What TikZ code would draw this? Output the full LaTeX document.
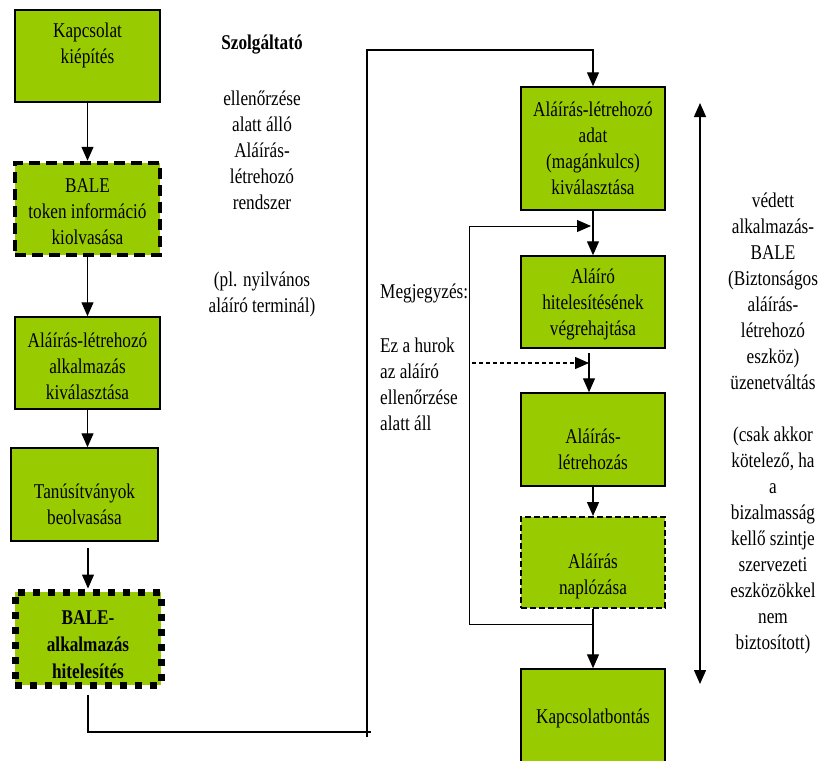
\documentclass[tikz,border=0pt]{standalone}
\usepackage{fontspec}
\setmainfont{Liberation Serif}[FakeStretch=0.82]
\usetikzlibrary{arrows.meta,positioning}
\definecolor{leaf}{HTML}{99CC00}

\begin{document}
\begin{tikzpicture}[x=1pt, y=-1pt,
    stepbox/.style={draw, line width=1.5pt, fill=leaf,
                    minimum width=145pt, minimum height=92pt, inner sep=0pt},
    boxtext/.style={align=center, inner sep=0pt,
                    font=\fontsize{21}{26}\selectfont},
    note/.style={align=center, inner sep=0pt,
                 font=\fontsize{21}{26}\selectfont},
    arrow/.style={-{Triangle[length=14pt,width=12pt]}, line width=1.3pt},
    twoway/.style={{Triangle[length=14pt,width=12pt]}-{Triangle[length=14pt,width=12pt]},
                   line width=1.3pt},
  ]
  \useasboundingbox (0,0) rectangle (818,760);
  \clip (0,0) rectangle (818,760);

  % left column
  \node[stepbox, label={[boxtext, yshift=11pt]center:Kapcsolat\\kiépítés}]
      (kiepites) at (87.5,56) {};
  \node[stepbox, line width=4.5pt, dash pattern=on 11pt off 6pt,
        label={[boxtext, yshift=-3pt]center:BALE\\token információ\\kiolvasása}]
      (token) at (87.5,209) {};
  \node[stepbox, label={[boxtext, yshift=-3pt]center:Aláírás-létrehozó\\alkalmazás\\kiválasztása}]
      (alkvalaszt) at (87.5,363) {};
  \node[stepbox, minimum width=147pt, minimum height=93pt,
        label={[boxtext, yshift=-10pt]center:Tanúsítványok\\beolvasása}]
      (tanus) at (84.5,494.5) {};
  \node[stepbox, line width=7pt, dash pattern=on 7pt off 8pt,
        minimum width=146pt, minimum height=93pt,
        label={[boxtext, font=\fontsize{21}{27}\selectfont\bfseries, yshift=-6pt]center:BALE-\\alkalmazás\\hitelesítés}]
      (balehit) at (88,638.5) {};

  % right column
  \node[stepbox, minimum width=144pt, minimum height=123pt,
        label={[boxtext]center:Aláírás-létrehozó\\adat\\(magánkulcs)\\kiválasztása}]
      (kulcs) at (593,148.5) {};
  \node[stepbox, minimum width=144pt,
        label={[boxtext, yshift=-2pt]center:Aláíró\\hitelesítésének\\végrehajtása}]
      (hitel) at (593,302) {};
  \node[stepbox, minimum width=144pt, minimum height=93pt,
        label={[boxtext, yshift=-10pt]center:Aláírás-\\létrehozás}]
      (letrehoz) at (593,439.5) {};
  \node[stepbox, minimum width=144pt, minimum height=91pt,
        line width=2pt, dash pattern=on 6pt off 3pt,
        label={[boxtext, yshift=-14pt]center:Aláírás\\naplózása}]
      (naplo) at (593,562.5) {};
  \node[stepbox, minimum width=144pt, minimum height=98pt,
        label={[boxtext]center:Kapcsolatbontás}]
      (bontas) at (593,718) {};

  % texts
  \node[note, font=\fontsize{21}{26}\selectfont\bfseries] (szolg) at (262,45) {Szolgáltató};
  \node[note] (rendszer) at (262,150)
      {ellenőrzése\\alatt álló\\Aláírás-\\létrehozó\\rendszer};
  \node[note] (terminal) at (262,294) {(pl. nyilvános\\aláíró terminál)};
  \node[note, align=left, anchor=west] (megj) at (380,293) {Megjegyzés:};
  \node[note, align=left, anchor=west] (hurok) at (380,384)
      {Ez a hurok\\az aláíró\\ellenőrzése\\alatt áll};
  \node[note] (bale) at (773,423)
      {védett\\alkalmazás-\\BALE\\(Biztonságos\\aláírás-\\létrehozó\\eszköz)\\üzenetváltás\\[26pt]
       (csak akkor\\kötelező, ha\\a\\bizalmasság\\kellő szintje\\szervezeti\\eszközökkel\\nem\\biztosított)};

  % left column arrows
  \draw[arrow] (kiepites.south) -- (token.north);
  \draw[arrow] (token.south) -- (alkvalaszt.north);
  \draw[arrow] (alkvalaszt.south) -- (alkvalaszt.south |- tanus.north);
  \draw[arrow] ([yshift=-6pt]tanus.south -| balehit.north) -- (balehit.north);

  % across to the right column
  \coordinate (lowturn) at (367,732);
  \coordinate (highturn) at (367,50);
  \draw[arrow] ([yshift=-6pt]balehit.south) |- (lowturn) -- (highturn) -| (kulcs.north);
  \draw[line width=1.3pt] (lowturn) -- ++(0,5) (lowturn) -- ++(4,0);

  % right column arrows
  \draw[arrow] (kulcs.south) -- (hitel.north);
  \draw[arrow] ([xshift=-4pt,yshift=-4pt]hitel.south) -- ([xshift=-4pt]letrehoz.north);
  \draw[arrow] (letrehoz.south) -- (naplo.north);
  \draw[arrow] (naplo.south) -- (bontas.north);

  % loop back
  \coordinate (loopbase) at (469,624);
  \coordinate (looptop) at (469,226);
  \draw[arrow, line width=1pt] (naplo.south |- loopbase) -- (loopbase) -- (looptop)
      -- ([xshift=-2pt]looptop -| kulcs.south);

  % dashed
  \coordinate (dashstart) at (472,363);
  \draw[arrow, dash pattern=on 4pt off 3pt] (dashstart) -- ([xshift=-4pt]dashstart -| hitel.south);

  % message exchange
  \coordinate (vtop) at (700,103);
  \coordinate (vbot) at (700,684);
  \draw[twoway] (vtop) -- (vbot);

\end{tikzpicture}
\end{document}
